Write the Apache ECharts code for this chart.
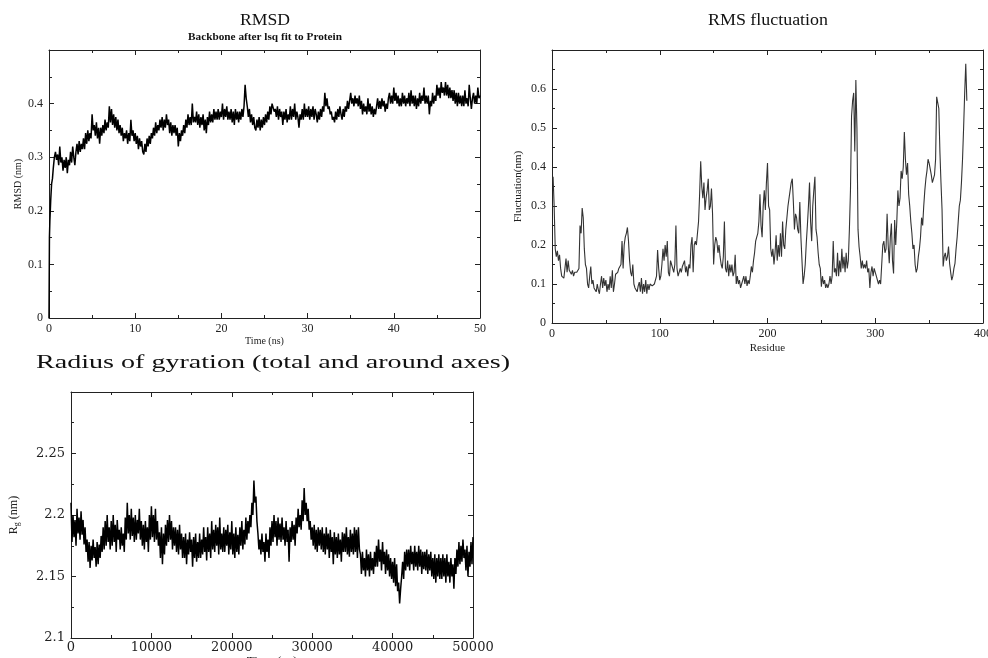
<!DOCTYPE html>
<html><head><meta charset="utf-8">
<script src="https://cdn.jsdelivr.net/npm/echarts@6/dist/echarts.min.js"></script>
<style>html,body{margin:0;padding:0;background:#fff}#c{width:988px;height:658px}</style>
</head><body><div id="c"></div>
<script>
// ---------- RMSD (time in ns, value in nm) ----------
const rmsdStartTime  = [0, 0.05, 0.1, 0.2, 0.3, 0.4, 0.5, 0.625];
const rmsdStartValue = [0, 0.15, 0.18, 0.22, 0.25, 0.26, 0.28, 0.30];
const rmsdFirstTime = 0.75;
const rmsdStep = 0.125;
const rmsdValue = [
 0.31,0.295,
 0.305,0.285,0.32,0.29,0.30,0.275,0.295,0.28,
 0.30,0.27,0.295,0.285,0.31,0.29,0.32,0.30,
 0.285,0.31,0.325,0.305,0.33,0.31,0.325,0.315,
 0.335,0.315,0.345,0.325,0.35,0.33,0.345,0.335,
 0.38,0.35,0.36,0.34,0.365,0.335,0.355,0.325,
 0.355,0.34,0.36,0.345,0.37,0.35,0.365,0.355,
 0.395,0.365,0.39,0.36,0.38,0.355,0.375,0.35,
 0.37,0.345,0.36,0.34,0.355,0.33,0.345,0.335,
 0.35,0.325,0.345,0.33,0.37,0.34,0.35,0.33,
 0.345,0.325,0.34,0.315,0.335,0.32,0.33,0.31,
 0.305,0.325,0.31,0.335,0.32,0.34,0.325,0.345,
 0.335,0.355,0.34,0.365,0.345,0.36,0.35,0.37,
 0.355,0.375,0.35,0.37,0.355,0.38,0.36,0.37,
 0.345,0.365,0.34,0.36,0.345,0.36,0.34,0.355,
 0.32,0.345,0.33,0.35,0.34,0.36,0.345,0.37,
 0.355,0.38,0.36,0.375,0.36,0.40,0.365,0.375,
 0.365,0.385,0.36,0.38,0.355,0.375,0.36,0.38,
 0.35,0.37,0.345,0.375,0.36,0.385,0.365,0.38,
 0.365,0.39,0.37,0.385,0.37,0.39,0.37,0.385,
 0.375,0.40,0.37,0.39,0.375,0.395,0.37,0.385,
 0.37,0.39,0.365,0.385,0.36,0.39,0.37,0.385,
 0.365,0.385,0.37,0.39,0.375,0.395,0.435,0.41,
 0.395,0.375,0.39,0.365,0.38,0.36,0.375,0.355,
 0.35,0.37,0.355,0.375,0.35,0.37,0.355,0.375,
 0.36,0.38,0.365,0.385,0.37,0.395,0.38,0.40,
 0.40,0.385,0.39,0.375,0.395,0.37,0.39,0.375,
 0.385,0.36,0.385,0.37,0.39,0.365,0.38,0.37,
 0.395,0.37,0.39,0.375,0.40,0.37,0.385,0.375,
 0.355,0.38,0.37,0.39,0.37,0.40,0.375,0.39,
 0.375,0.395,0.37,0.39,0.375,0.395,0.37,0.39,
 0.38,0.365,0.385,0.37,0.39,0.375,0.395,0.385,
 0.42,0.395,0.41,0.39,0.395,0.38,0.385,0.37,
 0.375,0.365,0.385,0.37,0.39,0.375,0.395,0.38,
 0.37,0.39,0.375,0.395,0.385,0.405,0.39,0.405,
 0.42,0.40,0.41,0.395,0.415,0.40,0.41,0.395,
 0.415,0.39,0.405,0.38,0.40,0.385,0.395,0.38,
 0.41,0.385,0.40,0.38,0.395,0.375,0.39,0.38,
 0.395,0.41,0.39,0.405,0.39,0.41,0.395,0.405,
 0.385,0.40,0.39,0.41,0.42,0.40,0.415,0.40,
 0.43,0.405,0.42,0.40,0.415,0.395,0.41,0.395,
 0.42,0.40,0.415,0.395,0.41,0.40,0.42,0.395,
 0.425,0.40,0.415,0.395,0.415,0.39,0.41,0.395,
 0.42,0.40,0.415,0.405,0.43,0.40,0.415,0.40,
 0.415,0.38,0.405,0.395,0.42,0.40,0.415,0.405,
 0.435,0.415,0.43,0.41,0.44,0.42,0.43,0.415,
 0.44,0.415,0.435,0.41,0.43,0.41,0.425,0.405,
 0.425,0.40,0.42,0.395,0.42,0.40,0.415,0.395,
 0.415,0.395,0.425,0.40,0.41,0.395,0.435,0.41,
 0.39,0.41,0.42,0.40,0.415,0.40,0.43,0.41,
 0.415
];

// ---------- RMS fluctuation (residue 1..385, nm) ----------
const rmsfFirstResidue = 1;
const rmsfValue = [
 0.375,0.30,0.19,0.17,0.185,0.16,0.175,0.14,0.12,0.115,
 0.115,0.14,0.165,0.13,0.16,0.135,0.14,0.125,0.135,0.12,
 0.13,0.125,0.13,0.135,0.14,0.25,0.23,0.295,0.27,0.19,
 0.15,0.14,0.10,0.09,0.12,0.145,0.10,0.11,0.09,0.095,
 0.08,0.10,0.085,0.075,0.10,0.12,0.09,0.115,0.095,0.11,
 0.08,0.10,0.085,0.12,0.09,0.135,0.08,0.10,0.125,0.13,
 0.13,0.14,0.145,0.15,0.21,0.14,0.20,0.22,0.23,0.245,
 0.21,0.16,0.13,0.12,0.15,0.10,0.09,0.085,0.08,0.095,
 0.105,0.08,0.115,0.075,0.10,0.08,0.11,0.075,0.10,0.085,
 0.10,0.105,0.095,0.09,0.10,0.095,0.12,0.187,0.14,0.11,
 0.12,0.15,0.19,0.16,0.20,0.17,0.21,0.13,0.12,0.16,
 0.15,0.14,0.13,0.15,0.25,0.14,0.12,0.13,0.14,0.13,
 0.145,0.14,0.16,0.13,0.145,0.12,0.15,0.14,0.20,0.22,
 0.13,0.20,0.21,0.20,0.23,0.26,0.33,0.415,0.35,0.32,
 0.36,0.29,0.32,0.34,0.37,0.29,0.30,0.345,0.28,0.15,
 0.20,0.22,0.21,0.18,0.20,0.17,0.15,0.14,0.17,0.26,
 0.14,0.13,0.16,0.12,0.15,0.13,0.15,0.12,0.13,0.175,
 0.10,0.12,0.10,0.11,0.09,0.10,0.11,0.12,0.10,0.12,
 0.095,0.11,0.10,0.12,0.145,0.13,0.16,0.18,0.21,0.22,
 0.23,0.26,0.33,0.25,0.22,0.30,0.34,0.29,0.36,0.41,
 0.30,0.29,0.19,0.17,0.19,0.15,0.18,0.225,0.16,0.20,
 0.17,0.23,0.17,0.26,0.20,0.19,0.24,0.27,0.30,0.32,
 0.34,0.36,0.37,0.31,0.24,0.28,0.27,0.24,0.23,0.31,
 0.22,0.16,0.10,0.12,0.15,0.205,0.25,0.30,0.36,0.26,
 0.21,0.30,0.34,0.375,0.24,0.22,0.18,0.15,0.14,0.093,
 0.12,0.10,0.11,0.09,0.10,0.09,0.10,0.12,0.10,0.12,
 0.21,0.13,0.14,0.12,0.18,0.12,0.16,0.13,0.19,0.14,
 0.17,0.13,0.18,0.14,0.16,0.24,0.34,0.53,0.57,0.59,
 0.44,0.623,0.50,0.24,0.195,0.17,0.14,0.16,0.14,0.15,
 0.14,0.16,0.13,0.14,0.09,0.13,0.145,0.12,0.14,0.13,
 0.12,0.11,0.10,0.11,0.10,0.105,0.20,0.21,0.18,0.19,
 0.28,0.20,0.153,0.22,0.255,0.16,0.127,0.264,0.20,0.26,
 0.34,0.30,0.32,0.39,0.37,0.40,0.49,0.42,0.38,0.41,
 0.33,0.30,0.26,0.23,0.19,0.20,0.15,0.13,0.14,0.17,
 0.19,0.22,0.27,0.25,0.30,0.34,0.37,0.39,0.42,0.41,
 0.395,0.38,0.36,0.355,0.38,0.42,0.58,0.585,0.55,0.44,
 0.36,0.29,0.145,0.17,0.18,0.16,0.17,0.196,0.153,0.13,
 0.11,0.12,0.14,0.153,0.19,0.22,0.26,0.30,0.315,0.36,
 0.42,0.50,0.59,0.665,0.57
];

// ---------- Radius of gyration (time in ps, value in nm) ----------
const rgFirstTime = 0;
const rgStep = 125;
const rgValue = [
 2.21,2.178,2.20,2.182,2.196,2.175,2.205,2.185,
 2.198,2.18,2.203,2.184,2.196,2.176,2.19,2.17,
 2.18,2.162,2.178,2.157,2.175,2.163,2.18,2.165,
 2.174,2.158,2.178,2.16,2.176,2.165,2.183,2.17,
 2.19,2.172,2.195,2.175,2.20,2.178,2.19,2.172,
 2.195,2.175,2.20,2.178,2.192,2.17,2.196,2.18,
 2.188,2.172,2.19,2.175,2.185,2.17,2.198,2.18,
 2.21,2.185,2.20,2.18,2.205,2.183,2.198,2.178,
 2.20,2.18,2.196,2.185,2.205,2.18,2.195,2.175,
 2.192,2.172,2.195,2.178,2.19,2.17,2.20,2.18,
 2.207,2.182,2.20,2.178,2.205,2.18,2.195,2.175,
 2.186,2.165,2.19,2.16,2.185,2.168,2.192,2.175,
 2.196,2.178,2.20,2.18,2.195,2.172,2.19,2.175,
 2.19,2.17,2.188,2.168,2.192,2.172,2.185,2.165,
 2.182,2.165,2.185,2.16,2.18,2.168,2.186,2.17,
 2.18,2.158,2.182,2.165,2.185,2.162,2.178,2.165,
 2.185,2.165,2.18,2.168,2.19,2.17,2.182,2.163,
 2.19,2.17,2.185,2.165,2.195,2.172,2.188,2.17,
 2.192,2.175,2.19,2.168,2.198,2.172,2.185,2.17,
 2.19,2.17,2.188,2.175,2.192,2.168,2.186,2.172,
 2.195,2.168,2.185,2.165,2.19,2.17,2.184,2.168,
 2.19,2.175,2.195,2.172,2.188,2.176,2.198,2.18,
 2.195,2.185,2.20,2.19,2.21,2.20,2.228,2.21,
 2.215,2.195,2.185,2.172,2.18,2.168,2.185,2.17,
 2.178,2.162,2.185,2.17,2.18,2.165,2.19,2.175,
 2.195,2.178,2.20,2.182,2.195,2.175,2.198,2.18,
 2.193,2.178,2.198,2.18,2.19,2.175,2.195,2.178,
 2.188,2.162,2.19,2.178,2.195,2.18,2.192,2.175,
 2.198,2.185,2.205,2.19,2.20,2.188,2.212,2.195,
 2.222,2.20,2.21,2.195,2.205,2.188,2.195,2.18,
 2.19,2.175,2.192,2.172,2.188,2.17,2.19,2.175,
 2.188,2.172,2.19,2.17,2.185,2.168,2.19,2.172,
 2.185,2.165,2.188,2.17,2.182,2.16,2.186,2.168,
 2.182,2.165,2.185,2.168,2.18,2.162,2.186,2.17,
 2.185,2.17,2.19,2.168,2.182,2.166,2.188,2.17,
 2.185,2.168,2.19,2.17,2.188,2.165,2.19,2.172,
 2.168,2.152,2.17,2.155,2.165,2.15,2.172,2.155,
 2.168,2.15,2.17,2.155,2.165,2.152,2.17,2.158,
 2.175,2.158,2.18,2.162,2.172,2.155,2.178,2.16,
 2.17,2.152,2.172,2.155,2.168,2.15,2.165,2.148,
 2.162,2.145,2.165,2.142,2.16,2.138,2.145,2.128,
 2.14,2.15,2.162,2.148,2.17,2.155,2.172,2.158,
 2.172,2.155,2.175,2.16,2.17,2.155,2.175,2.158,
 2.17,2.155,2.175,2.158,2.172,2.152,2.17,2.156,
 2.17,2.155,2.172,2.152,2.168,2.155,2.17,2.15,
 2.165,2.148,2.168,2.145,2.165,2.15,2.168,2.148,
 2.165,2.148,2.168,2.15,2.165,2.145,2.168,2.15,
 2.162,2.145,2.165,2.15,2.16,2.14,2.165,2.152,
 2.172,2.158,2.178,2.16,2.175,2.162,2.18,2.165,
 2.172,2.155,2.175,2.15,2.17,2.158,2.178,2.16,
 2.182
];

// ---------- titles ----------
const titleRmsd = 'RMSD';
const subtitleRmsd = 'Backbone after lsq fit to Protein';
const titleRmsf = 'RMS fluctuation';
const titleRg = 'Radius of gyration (total and around axes)';

// ---------- build [x,y] pairs ----------
const rmsdData = rmsdStartTime.map((t, i) => [t, rmsdStartValue[i]])
  .concat(rmsdValue.map((v, i) => [rmsdFirstTime + i * rmsdStep, v]));
const rmsfData = rmsfValue.map((v, i) => [rmsfFirstResidue + i, v]);
const rgData = rgValue.map((v, i) => [rgFirstTime + i * rgStep, v]);

const FC = '#222';
function axisPair(kind, grid, min, max, interval, font, size, margin, name, nameGap, nameStyle, showMax) {
  const common = {
    type: 'value', gridIndex: grid, min: min, max: max, interval: interval,
    axisLine: { show: true, onZero: false, lineStyle: { color: FC, width: 1 } },
    axisTick: { show: true, inside: true, length: 5, lineStyle: { color: FC, width: 1 } },
    minorTick: { show: true, splitNumber: 2, length: 3, lineStyle: { color: FC, width: 1 } },
    splitLine: { show: false }
  };
  const main = Object.assign({}, common, {
    position: kind === 'x' ? 'bottom' : 'left',
    axisLabel: {
      color: FC, fontFamily: font, fontSize: size, margin: margin, showMaxLabel: showMax,
      formatter: v => String(+v.toFixed(4))
    },
    name: name, nameLocation: 'middle', nameGap: nameGap,
    nameTextStyle: Object.assign({ color: FC, fontFamily: 'Liberation Serif' }, nameStyle)
  });
  const mirror = Object.assign({}, common, {
    position: kind === 'x' ? 'top' : 'right',
    axisLabel: { show: false }
  });
  return [main, mirror];
}

const xA = [].concat(
  axisPair('x', 0, 0, 50, 10, 'Liberation Serif', 12, 5, 'Time (ns)', 16, { fontSize: 10 }, true),
  axisPair('x', 1, 0, 400, 100, 'Liberation Serif', 12, 5, 'Residue', 20, { fontSize: 11 }, true),
  axisPair('x', 2, 0, 50000, 10000, 'DejaVu Serif', 13, 3, 'Time (ps)', 15, { fontSize: 13 }, true)
);
const yA = [].concat(
  axisPair('y', 0, 0, 0.5, 0.1, 'Liberation Serif', 12, 6, 'RMSD (nm)', 26, { fontSize: 10 }, false),
  axisPair('y', 1, 0, 0.7, 0.1, 'Liberation Serif', 12, 6, 'Fluctuation(nm)', 28, { fontSize: 11 }, false),
  axisPair('y', 2, 2.1, 2.3, 0.05, 'DejaVu Serif', 13, 6, '{a|R}{b|g}{a| (nm)}', 50, {
    rich: {
      a: { fontSize: 12, fontFamily: 'Liberation Serif', color: FC },
      b: { fontSize: 8, fontFamily: 'Liberation Serif', color: FC, verticalAlign: 'bottom', padding: [7, 0, 0, 0] }
    }
  }, false)
);

// horizontal stretch so that each title covers the width it has in the picture
const mctx = document.createElement('canvas').getContext('2d');
function stretch(text, font, targetWidth) {
  mctx.font = font;
  return targetWidth / mctx.measureText(text).width;
}
function titleText(text, x, y, size, targetWidth, weight) {
  const font = (weight || 'normal') + ' ' + size + 'px "Liberation Serif"';
  return {
    type: 'text', x: x, y: y, scaleX: stretch(text, font, targetWidth), z: 10,
    style: { text: text, font: font, fill: '#111', align: 'center', verticalAlign: 'middle',
             textAlign: 'center', textVerticalAlign: 'middle' }
  };
}

const chart = echarts.init(document.getElementById('c'), null, { renderer: 'canvas' });
chart.setOption({
  backgroundColor: '#fff',
  animation: false,
  graphic: [
    titleText(titleRmsd, 265, 21, 17, 50),
    titleText(subtitleRmsd, 265, 37, 11, 154, 'bold'),
    titleText(titleRmsf, 768, 21, 16, 120),
    titleText(titleRg, 273, 363, 19, 474)
  ],
  grid: [
    { left: 49, top: 50, width: 431, height: 268, outerBoundsMode: 'none', containLabel: false },
    { left: 552, top: 50, width: 431, height: 273, outerBoundsMode: 'none', containLabel: false },
    { left: 71, top: 392, width: 402, height: 246, outerBoundsMode: 'none', containLabel: false }
  ],
  xAxis: xA,
  yAxis: yA,
  series: [
    { type: 'line', xAxisIndex: 0, yAxisIndex: 0, data: rmsdData, showSymbol: false,
      lineStyle: { color: '#000', width: 1.5 }, clip: true },
    { type: 'line', xAxisIndex: 2, yAxisIndex: 2, data: rmsfData, showSymbol: false,
      lineStyle: { color: '#333', width: 1.1 }, clip: true },
    { type: 'line', xAxisIndex: 4, yAxisIndex: 4, data: rgData, showSymbol: false,
      lineStyle: { color: '#000', width: 1.5 }, clip: true }
  ]
});
</script></body></html>
